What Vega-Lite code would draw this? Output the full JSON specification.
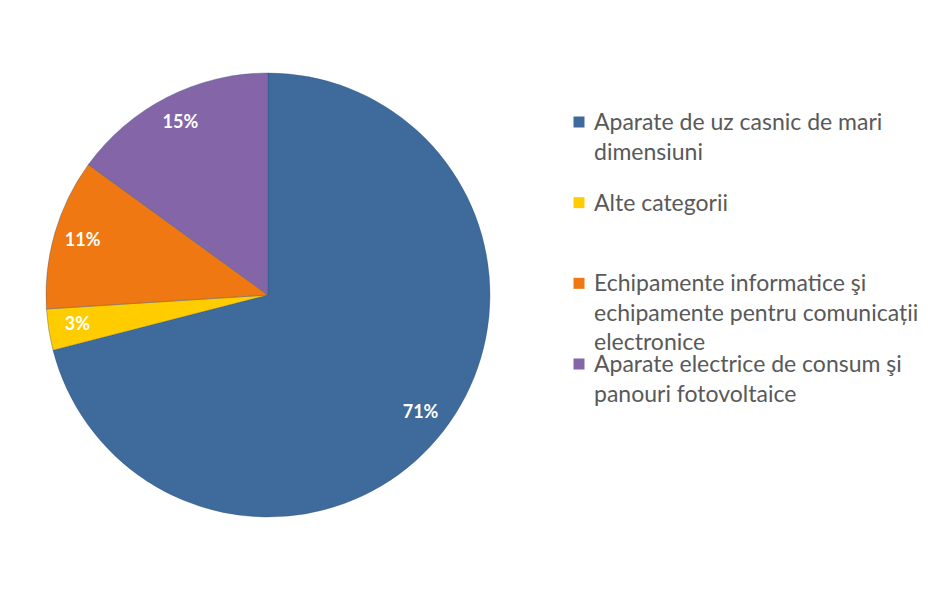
{
  "$schema": "https://vega.github.io/schema/vega-lite/v6.json",
  "padding": {"left": 8, "top": 15, "right": 0, "bottom": 0},
  "background": "white",
  "config": {"view": {"stroke": null}},
  "datasets": {
    "slices": [
      {"cat": "Aparate de uz casnic de mari dimensiuni", "share": 0.71, "ord": 1},
      {"cat": "Alte categorii", "share": 0.03, "ord": 2},
      {"cat": "Echipamente  informatice  şi echipamente  pentru comunicații electronice", "share": 0.11, "ord": 3},
      {"cat": "Aparate electrice de consum şi panouri fotovoltaice", "share": 0.15, "ord": 4}
    ],
    "legend": [
      {"cat": "Aparate de uz casnic de mari dimensiuni", "txt": "Aparate de uz casnic de mari|dimensiuni", "i": 0},
      {"cat": "Alte categorii", "txt": "Alte categorii", "i": 1},
      {"cat": "Echipamente  informatice  şi echipamente  pentru comunicații electronice", "txt": "Echipamente  informatice  şi|echipamente  pentru comunicații|electronice", "i": 2},
      {"cat": "Aparate electrice de consum şi panouri fotovoltaice", "txt": "Aparate electrice de consum şi|panouri fotovoltaice", "i": 3}
    ]
  },
  "hconcat": [
    {
      "width": 520,
      "height": 560,
      "data": {"name": "slices"},
      "encoding": {
        "theta": {"field": "share", "type": "quantitative", "stack": true},
        "order": {"field": "ord", "type": "quantitative"},
        "color": {
          "field": "cat", "type": "nominal", "legend": null,
          "scale": {
            "domain": ["Aparate de uz casnic de mari dimensiuni", "Alte categorii", "Echipamente  informatice  şi echipamente  pentru comunicații electronice", "Aparate electrice de consum şi panouri fotovoltaice"],
            "range": ["#3E6A9C", "#FFCC00", "#F07812", "#8466A8"]
          }
        }
      },
      "layer": [
        {"mark": {"type": "arc", "outerRadius": 222, "stroke": "#2f4f77", "strokeOpacity": 0.35, "strokeWidth": 1}},
        {
          "mark": {"type": "text", "radius": 193, "fill": "white", "font": "Lato", "fontWeight": "bold", "fontSize": 18},
          "encoding": {
            "text": {"field": "share", "type": "quantitative", "format": ".0%"},
            "color": {"value": "white"}
          }
        }
      ]
    },
    {
      "width": 370,
      "height": 560,
      "data": {"name": "legend"},
      "encoding": {
        "y": {"field": "i", "type": "quantitative", "axis": null, "scale": {"domain": [0, 3], "range": [107, 349]}}
      },
      "layer": [
        {
          "mark": {"type": "point", "shape": "square", "filled": true, "size": 121, "opacity": 1},
          "encoding": {
            "x": {"datum": 5, "type": "quantitative", "axis": null, "scale": {"domain": [0, 370]}},
            "color": {
              "field": "cat", "type": "nominal", "legend": null,
              "scale": {
                "domain": ["Aparate de uz casnic de mari dimensiuni", "Alte categorii", "Echipamente  informatice  şi echipamente  pentru comunicații electronice", "Aparate electrice de consum şi panouri fotovoltaice"],
                "range": ["#3E6A9C", "#FFCC00", "#F07812", "#8466A8"]
              }
            }
          }
        },
        {
          "mark": {"type": "text", "align": "left", "baseline": "alphabetic", "dy": 8, "lineBreak": "|", "lineHeight": 29.5, "font": "Lato", "fontSize": 23, "color": "#595959"},
          "encoding": {
            "x": {"datum": 20, "type": "quantitative", "axis": null, "scale": {"domain": [0, 370]}},
            "text": {"field": "txt", "type": "nominal"}
          }
        }
      ]
    }
  ],
  "spacing": 45
}
